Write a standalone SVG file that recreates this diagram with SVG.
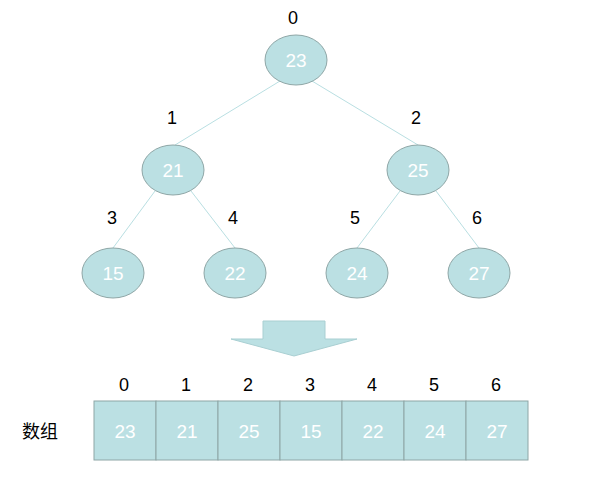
<svg xmlns="http://www.w3.org/2000/svg" width="604" height="487" viewBox="0 0 604 487">
  <style>
    .node ellipse { fill: #bbe0e3; stroke: #8ea6a6; stroke-width: 1; }
    .val { font-family: "Liberation Sans", Arial, sans-serif; font-size: 19px; fill: #ffffff; text-anchor: middle; }
    .idx { font-family: "Liberation Sans", Arial, sans-serif; font-size: 18px; fill: #000000; text-anchor: middle; }
    .edges line { stroke: #b9dfe2; stroke-width: 1; }
    .cell { fill: #bbe0e3; stroke: #8ea6a6; stroke-width: 1; }
    .cjk { font-family: "Liberation Sans", "Noto Sans CJK SC", sans-serif; font-size: 18px; fill: #000000; text-anchor: middle; }
  </style>

  <!-- tree connectors -->
  <g id="edges" class="edges">
    <line x1="280" y1="81" x2="175" y2="145"/>
    <line x1="312" y1="81" x2="418" y2="145"/>
    <line x1="155" y1="191" x2="113" y2="248"/>
    <line x1="191" y1="191" x2="235" y2="248"/>
    <line x1="400" y1="191" x2="357" y2="248"/>
    <line x1="436" y1="191" x2="479" y2="248"/>
  </g>

  <!-- heap nodes -->
  <g id="node0" class="node">
    <ellipse cx="296" cy="60" rx="31" ry="25"/>
    <text class="val" x="296" y="67">23</text>
    <text class="idx" x="293" y="24">0</text>
  </g>
  <g id="node1" class="node">
    <ellipse cx="173" cy="170" rx="31" ry="25"/>
    <text class="val" x="173" y="177">21</text>
    <text class="idx" x="172" y="124">1</text>
  </g>
  <g id="node2" class="node">
    <ellipse cx="418" cy="170" rx="31" ry="25"/>
    <text class="val" x="418" y="177">25</text>
    <text class="idx" x="416" y="124">2</text>
  </g>
  <g id="node3" class="node">
    <ellipse cx="113" cy="273" rx="31" ry="25"/>
    <text class="val" x="113" y="280">15</text>
    <text class="idx" x="112" y="224">3</text>
  </g>
  <g id="node4" class="node">
    <ellipse cx="235" cy="273" rx="31" ry="25"/>
    <text class="val" x="235" y="280">22</text>
    <text class="idx" x="233" y="224">4</text>
  </g>
  <g id="node5" class="node">
    <ellipse cx="357" cy="273" rx="31" ry="25"/>
    <text class="val" x="357" y="280">24</text>
    <text class="idx" x="355" y="224">5</text>
  </g>
  <g id="node6" class="node">
    <ellipse cx="479" cy="273" rx="31" ry="25"/>
    <text class="val" x="479" y="280">27</text>
    <text class="idx" x="477" y="224">6</text>
  </g>

  <!-- down arrow -->
  <g id="arrow">
    <polygon points="263,321 325,321 325,339 357,339 294,356 231,339 263,339" fill="#bbe0e3" stroke="#a9cfd2" stroke-width="1"/>
  </g>

  <!-- array representation -->
  <g id="array">
    <text class="cjk" x="40" y="438">数组</text>
    <g id="cell0"><rect class="cell" x="94" y="401" width="62" height="59"/><text class="val" x="125" y="438">23</text><text class="idx" x="124" y="391">0</text></g>
    <g id="cell1"><rect class="cell" x="156" y="401" width="62" height="59"/><text class="val" x="187" y="438">21</text><text class="idx" x="186" y="391">1</text></g>
    <g id="cell2"><rect class="cell" x="218" y="401" width="62" height="59"/><text class="val" x="249" y="438">25</text><text class="idx" x="248" y="391">2</text></g>
    <g id="cell3"><rect class="cell" x="280" y="401" width="62" height="59"/><text class="val" x="311" y="438">15</text><text class="idx" x="310" y="391">3</text></g>
    <g id="cell4"><rect class="cell" x="342" y="401" width="62" height="59"/><text class="val" x="373" y="438">22</text><text class="idx" x="372" y="391">4</text></g>
    <g id="cell5"><rect class="cell" x="404" y="401" width="62" height="59"/><text class="val" x="435" y="438">24</text><text class="idx" x="434" y="391">5</text></g>
    <g id="cell6"><rect class="cell" x="466" y="401" width="62" height="59"/><text class="val" x="497" y="438">27</text><text class="idx" x="496" y="391">6</text></g>
  </g>
</svg>
